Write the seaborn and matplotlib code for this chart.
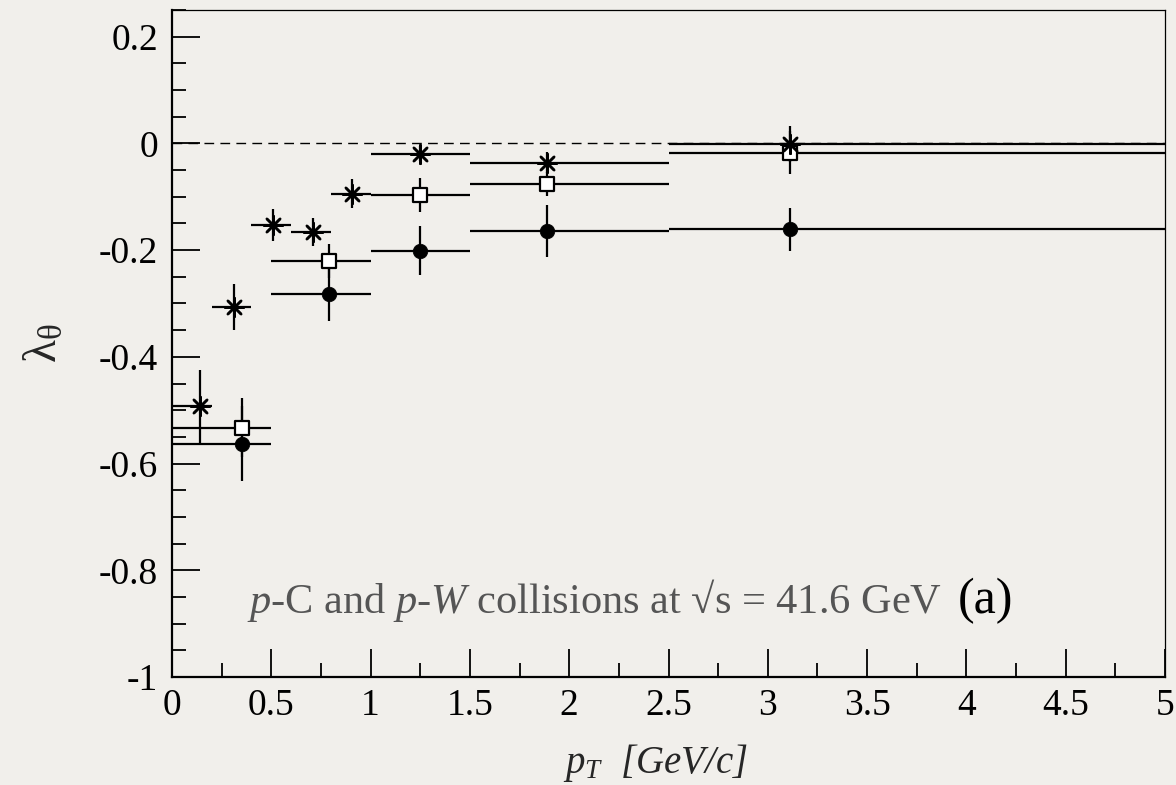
import numpy as np
import pandas as pd
import matplotlib
matplotlib.use("Agg")
import matplotlib.pyplot as plt
import seaborn as sns
from matplotlib.ticker import MultipleLocator, FormatStrFormatter

# ---------------- data ----------------
star_x = [0.14, 0.31, 0.51, 0.71, 0.905, 1.25, 1.89, 3.11]
star_lo = [0.0, 0.2, 0.4, 0.6, 0.8, 1.0, 1.5, 2.5]
star_hi = [0.2, 0.4, 0.6, 0.8, 1.0, 1.5, 2.5, 5.0]
star_y = [-0.493, -0.307, -0.153, -0.166, -0.094, -0.019, -0.036, -0.001]
star_err = [0.068, 0.043, 0.030, 0.026, 0.027, 0.014, 0.020, 0.034]

bin_x = [0.35, 0.79, 1.25, 1.89, 3.11]
bin_lo = [0.0, 0.5, 1.0, 1.5, 2.5]
bin_hi = [0.5, 1.0, 1.5, 2.5, 5.0]
sq_y = [-0.533, -0.221, -0.097, -0.076, -0.0175]
sq_err = [0.055, 0.032, 0.032, 0.023, 0.040]
circ_y = [-0.563, -0.283, -0.201, -0.164, -0.161]
circ_err = [0.070, 0.050, 0.046, 0.049, 0.040]

x_ticks = [0, 0.5, 1, 1.5, 2, 2.5, 3, 3.5, 4, 4.5, 5]
y_ticks = [-1, -0.8, -0.6, -0.4, -0.2, 0, 0.2]

BG = "#f1efeb"

sns.set_theme(style="ticks")
plt.rcParams["font.family"] = ["Liberation Serif", "DejaVu Serif"]
plt.rcParams["mathtext.fontset"] = "custom"
plt.rcParams["mathtext.rm"] = "Liberation Serif"
plt.rcParams["mathtext.it"] = "Liberation Serif:italic"
plt.rcParams["mathtext.bf"] = "Liberation Serif:bold"
plt.rcParams["axes.unicode_minus"] = False

fig = plt.figure(figsize=(11.76, 7.85), dpi=100, facecolor=BG)
ax = fig.add_axes([172 / 1176, 1 - 677 / 785, (1165 - 172) / 1176, (677 - 10) / 785])
ax.set_facecolor(BG)

df_star = pd.DataFrame({"x": star_x, "y": star_y})
df_sq = pd.DataFrame({"x": bin_x, "y": sq_y})
df_circ = pd.DataFrame({"x": bin_x, "y": circ_y})

ax.axhline(0, color="black", lw=1.0, dashes=(7, 4.5), zorder=1)

elw = 1.6
ax.errorbar(star_x, star_y,
            xerr=[np.array(star_x) - np.array(star_lo), np.array(star_hi) - np.array(star_x)],
            yerr=star_err, fmt="none", ecolor="black", elinewidth=elw, capsize=0, zorder=2)
ax.errorbar(bin_x, sq_y,
            xerr=[np.array(bin_x) - np.array(bin_lo), np.array(bin_hi) - np.array(bin_x)],
            yerr=sq_err, fmt="none", ecolor="black", elinewidth=elw, capsize=0, zorder=2)
ax.errorbar(bin_x, circ_y,
            xerr=[np.array(bin_x) - np.array(bin_lo), np.array(bin_hi) - np.array(bin_x)],
            yerr=circ_err, fmt="none", ecolor="black", elinewidth=elw, capsize=0, zorder=2)

sns.scatterplot(data=df_circ, x="x", y="y", ax=ax, marker="o", s=110,
                color="black", edgecolor="black", linewidth=0.5, zorder=3, legend=False)
sns.scatterplot(data=df_sq, x="x", y="y", ax=ax, marker="s", s=105,
                facecolor="white", edgecolor="black", linewidth=1.6, zorder=4, legend=False)
sns.scatterplot(data=df_star, x="x", y="y", ax=ax, marker=(8, 2, 0), s=180,
                color="black", linewidth=1.8, zorder=5, legend=False)

ax.set_xlim(0, 5)
ax.set_ylim(-1, 0.25)
ax.set_xticks(x_ticks)
ax.set_yticks(y_ticks)
ax.xaxis.set_minor_locator(MultipleLocator(0.25))
ax.yaxis.set_minor_locator(MultipleLocator(0.05))
ax.xaxis.set_major_formatter(FormatStrFormatter("%g"))
ax.yaxis.set_major_formatter(FormatStrFormatter("%g"))

ax.tick_params(axis="both", which="both", direction="in", colors="black",
               top=False, right=False)
ax.tick_params(axis="both", which="major", length=20, width=1.3, labelsize=27)
ax.tick_params(axis="both", which="minor", length=10, width=1.3)
ax.tick_params(axis="y", which="major", pad=10)
ax.tick_params(axis="x", which="major", pad=8)

for side in ["left", "bottom"]:
    ax.spines[side].set_linewidth(1.6)
    ax.spines[side].set_color("black")
for side in ["top", "right"]:
    ax.spines[side].set_linewidth(0.9)
    ax.spines[side].set_color("black")
    ax.spines[side].set_visible(True)

ax.set_ylabel(r"$\mathrm{\lambda_{\theta}}$", fontsize=34)
ax.yaxis.set_label_coords(-0.106, 0.5)
ax.set_xlabel(r"$\mathit{p_{T}}$  [GeV/c]", fontsize=28, fontstyle="italic")
ax.xaxis.set_label_coords(0.487, -0.098)

fig.text(247 / 1176, 1 - 613 / 785,
         r"$\mathit{p}$-C and $\mathit{p}$-$\mathit{W}$ collisions at √s = 41.6 GeV",
         fontsize=30.5, color="#555555", ha="left", va="baseline")
fig.text(958 / 1176, 1 - 613 / 785, "(a)", fontsize=36, color="black",
         ha="left", va="baseline")

fig.savefig("out.png", dpi=100, facecolor=BG)
